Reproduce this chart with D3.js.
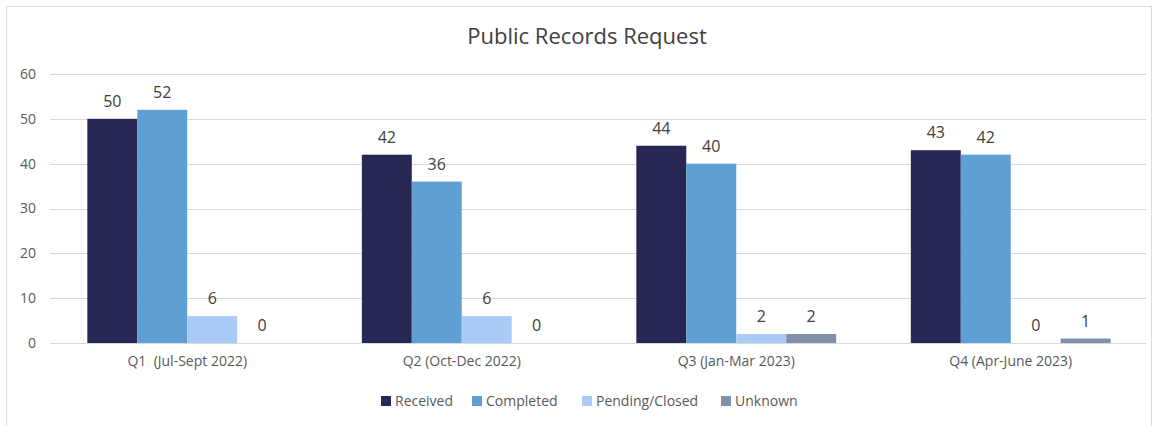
<!DOCTYPE html>
<html>
<head>
<meta charset="utf-8">
<script src="https://cdn.jsdelivr.net/npm/d3@7"></script>
<style>
  body { margin: 0; background: #fff; }
  text { font-family: "Open Sans", "Liberation Sans", sans-serif; }
</style>
</head>
<body>
<div id="chart"></div>
<script>
var quarters = ["Q1  (Jul-Sept 2022)", "Q2 (Oct-Dec 2022)", "Q3 (Jan-Mar 2023)", "Q4 (Apr-June 2023)"];
var seriesNames = ["Received", "Completed", "Pending/Closed", "Unknown"];
var received = [50, 42, 44, 43];
var completed = [52, 36, 40, 42];
var pending = [6, 6, 2, 0];
var unknown = [0, 0, 2, 1];
var yTicks = [0, 10, 20, 30, 40, 50, 60];
var colors = ["#262752", "#5f9fd3", "#abcbf7", "#8090aa"];

var width = 1158, height = 426;

var svg = d3.select("#chart").append("svg")
    .attr("width", width)
    .attr("height", height);

// chart border
svg.append("rect")
    .attr("x", 6.5).attr("y", 6.5)
    .attr("width", 1145).attr("height", 440)
    .attr("fill", "none")
    .attr("stroke", "#d9d9d9");

svg.append("text")
    .attr("x", 587).attr("y", 44)
    .attr("text-anchor", "middle")
    .attr("font-size", "22px")
    .attr("fill", "#404040")
    .text("Public Records Request");

var allSeries = [received, completed, pending, unknown];
var data = quarters.map(function(q, i) {
    return { q: q, values: allSeries.map(function(s, j) { return { name: seriesNames[j], v: s[i] }; }) };
});

var y = d3.scaleLinear().domain([0, 60]).range([343, 74]);
var x0 = d3.scaleBand().domain(quarters).range([50, 1148])
    .paddingInner(0.272).paddingOuter(0.136);
var x1 = d3.scaleBand().domain(seriesNames).range([0, x0.bandwidth()]);
var color = d3.scaleOrdinal().domain(seriesNames).range(colors);

// gridlines
svg.append("g").selectAll("line")
    .data(yTicks)
    .enter().append("line")
    .attr("x1", 50).attr("x2", 1146)
    .attr("y1", function(d) { return Math.round(y(d)) + 0.5; })
    .attr("y2", function(d) { return Math.round(y(d)) + 0.5; })
    .attr("stroke", "#d9d9d9")
    .attr("stroke-width", 1);

// y axis labels
var yAxis = svg.append("g")
    .attr("transform", "translate(40,0)")
    .call(d3.axisLeft(y).tickValues(yTicks).tickSize(0).tickPadding(4));
yAxis.select(".domain").remove();
yAxis.selectAll("text")
    .attr("font-size", "14px")
    .attr("fill", "#595959")
    .style("font-family", "'Open Sans', sans-serif");

// bars
var groups = svg.append("g").selectAll("g")
    .data(data)
    .enter().append("g")
    .attr("transform", function(d) { return "translate(" + x0(d.q) + ",0)"; });

groups.selectAll("rect")
    .data(function(d) { return d.values; })
    .enter().append("rect")
    .attr("x", function(d) { return x1(d.name); })
    .attr("width", x1.bandwidth())
    .attr("y", function(d) { return y(d.v); })
    .attr("height", function(d) { return y(0) - y(d.v); })
    .attr("fill", function(d) { return color(d.name); });

groups.selectAll("text")
    .data(function(d) { return d.values; })
    .enter().append("text")
    .attr("x", function(d) { return x1(d.name) + x1.bandwidth() / 2; })
    .attr("y", function(d) { return y(d.v) - 12; })
    .attr("text-anchor", "middle")
    .attr("font-size", "16px")
    .attr("fill", "#404040")
    .text(function(d) { return d.v; });

// x axis labels
var xAxis = svg.append("g")
    .attr("transform", "translate(0,343)")
    .call(d3.axisBottom(x0).tickSize(0).tickPadding(13));
xAxis.select(".domain").remove();
xAxis.selectAll("text")
    .attr("font-size", "14px")
    .attr("fill", "#595959")
    .style("font-family", "'Open Sans', sans-serif")
    .style("white-space", "pre")
    .attr("xml:space", "preserve");

// legend
var legendX = [381, 472, 582, 721];
var legend = svg.append("g").selectAll("g")
    .data(seriesNames)
    .enter().append("g")
    .attr("transform", function(d, i) { return "translate(" + legendX[i] + ",396)"; });
legend.append("rect")
    .attr("width", 10).attr("height", 10)
    .attr("fill", function(d) { return color(d); });
legend.append("text")
    .attr("x", 14).attr("y", 10)
    .attr("font-size", "14px")
    .attr("fill", "#595959")
    .text(function(d) { return d; });
</script>
</body>
</html>
